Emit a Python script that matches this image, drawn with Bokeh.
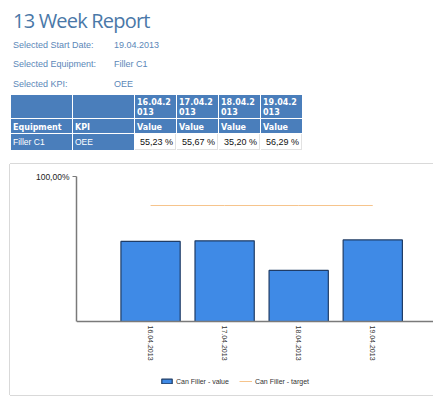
import math
from bokeh.plotting import figure
from bokeh.models import (Div, Range1d, FixedTicker, Legend, LegendItem, ColumnDataSource)
from bokeh.layouts import column
from bokeh.embed import file_html
from bokeh.resources import INLINE

# ---------------- data ----------------
report_title = "13 Week Report"
filter_labels = ["Selected Start Date:", "Selected Equipment:", "Selected KPI:"]
filter_values = ["19.04.2013", "Filler C1", "OEE"]
dates = ["16.04.2013", "17.04.2013", "18.04.2013", "19.04.2013"]
values = [55.23, 55.67, 35.20, 56.29]
targets = [80, 80, 80, 80]
equipment = "Filler C1"
kpi = "OEE"
row_headers = ["Equipment", "KPI"]
value_header = "Value"
y_ticks = [100]
y_tick_labels = ["100,00%"]
series_names = ["Can Filler - value", "Can Filler - target"]

# ---------------- header (title, filters, table) ----------------
TITLE_BLUE = "#4a78a8"
LABEL_BLUE = "#5b87b8"
CELL_BLUE = "#4a7ebb"
DX, DY = 3, 4

parts = []
parts.append(
    f'<div style="position:absolute;left:{5+DX}px;top:{-3+DY}px;font-family:\'Open Sans\';'
    f'font-size:20px;letter-spacing:-0.8px;line-height:30px;color:{TITLE_BLUE};white-space:nowrap;">{report_title}</div>'
)
label_tops = [30, 49, 69]
for t, lab, val in zip(label_tops, filter_labels, filter_values):
    parts.append(
        f'<div style="position:absolute;left:{5+DX}px;top:{t+DY}px;font-family:\'Liberation Sans\';'
        f'font-size:9px;line-height:12px;color:{LABEL_BLUE};white-space:nowrap;">{lab}</div>'
    )
    parts.append(
        f'<div style="position:absolute;left:{106+DX}px;top:{t+DY}px;font-family:\'Liberation Sans\';'
        f'font-size:9px;line-height:12px;color:{LABEL_BLUE};white-space:nowrap;">{val}</div>'
    )

col_left = [3, 65, 127, 169, 211, 253]
col_w = [61, 61, 41, 41, 41, 41]
row_top = [86, 110, 125]
row_h = [23, 14, 16]


def cell(ci, ri, text, bg, color, bold, align="left", valign="flex-end", font="'DejaVu Sans'", size=8, border=""):
    just = "flex-start" if align == "left" else "flex-end"
    weight = "bold" if bold else "normal"
    return (
        f'<div style="position:absolute;box-sizing:border-box;left:{col_left[ci]+DX}px;top:{row_top[ri]+DY}px;'
        f'width:{col_w[ci]}px;height:{row_h[ri]}px;background:{bg};color:{color};'
        f'display:flex;align-items:{valign};justify-content:{just};padding:0 2px;{border}'
        f'font-family:{font};font-size:{size}px;font-weight:{weight};line-height:10px;'
        f'word-break:break-all;text-align:{align};">{text}</div>'
    )


parts.append(cell(0, 0, "", CELL_BLUE, "white", True))
parts.append(cell(1, 0, "", CELL_BLUE, "white", True))
for i, d in enumerate(dates):
    parts.append(cell(2 + i, 0, d, CELL_BLUE, "white", True))
parts.append(cell(0, 1, row_headers[0], CELL_BLUE, "white", True))
parts.append(cell(1, 1, row_headers[1], CELL_BLUE, "white", True))
for i in range(len(dates)):
    parts.append(cell(2 + i, 1, value_header, CELL_BLUE, "white", True))
parts.append(cell(0, 2, equipment, CELL_BLUE, "white", False, valign="center", font="'Liberation Sans'", size=8.5))
parts.append(cell(1, 2, kpi, CELL_BLUE, "white", False, valign="center", font="'Liberation Sans'", size=8.5))
for i, v in enumerate(values):
    txt = f"{v:.2f}".replace(".", ",") + " %"
    parts.append(cell(2 + i, 2, txt, "white", "#111", False, align="right", valign="center",
                      font="'Liberation Sans'", size=9,
                      border="border-right:1px solid #e2e2e2;border-bottom:1px solid #e2e2e2;"))

html = '<div style="position:relative;width:430px;height:154px;">' + "".join(parts) + "</div>"
header = Div(text=html, width=430, height=154)

# ---------------- chart ----------------
xs = list(range(1, len(dates) + 1))
src = ColumnDataSource(dict(x=xs, value=values, target=targets))

# frame reaches the panel bottom; 0% sits 145px below 100%, frame bottom 74px below 0%
y_bottom = -100 * 74 / 145

p = figure(width=423, height=231, output_backend="svg", toolbar_location=None,
           x_range=Range1d(0, 4.82), y_range=Range1d(y_bottom, 100),
           min_border_left=66, min_border_right=0, min_border_top=12, min_border_bottom=0,
           margin=(0, 0, 0, 10))
p.styles = {"box-shadow": "-1px 0 0 0 #d9d9d9, 0 -1px 0 0 #d9d9d9, 0 1px 0 0 #d9d9d9"}
p.outline_line_color = None
p.background_fill_color = "white"
p.border_fill_color = "white"

bars = p.vbar(x="x", top="value", width=0.8, source=src,
              fill_color="#3f8ae6", line_color="#1f3c66", line_width=1.2)
tline = p.line(x="x", y="target", source=src, line_color="#f6c48c", line_width=1)

p.xaxis.fixed_location = 0
p.xaxis.ticker = FixedTicker(ticks=xs)
p.xaxis.major_label_overrides = {x: d for x, d in zip(xs, dates)}
p.xaxis.major_label_orientation = -math.pi / 2
p.xaxis.major_label_text_font = "Liberation Sans"
p.xaxis.major_label_text_font_size = "7px"
p.xaxis.major_label_text_color = "#333333"
p.xaxis.major_label_standoff = 4
p.xaxis.major_tick_out = 0
p.xaxis.major_tick_in = 0
p.xaxis.major_tick_line_color = None
p.xaxis.minor_tick_line_color = None
p.xaxis.axis_line_color = "#7a7a7a"
p.xaxis.axis_line_width = 1.5

p.yaxis.bounds = (0, 100)
p.yaxis.ticker = FixedTicker(ticks=y_ticks)
p.yaxis.major_label_overrides = {t: l for t, l in zip(y_ticks, y_tick_labels)}
p.yaxis.major_label_text_font = "Liberation Sans"
p.yaxis.major_label_text_font_size = "8.5px"
p.yaxis.major_label_text_color = "#222222"
p.yaxis.major_label_standoff = 3
p.yaxis.major_tick_out = 4
p.yaxis.major_tick_in = 0
p.yaxis.major_tick_line_color = "#7a7a7a"
p.yaxis.minor_tick_line_color = None
p.yaxis.axis_line_color = "#7a7a7a"
p.yaxis.axis_line_width = 1.5

p.xgrid.grid_line_color = None
p.ygrid.ticker = FixedTicker(ticks=y_ticks)
p.ygrid.grid_line_color = "#dcdcdc"

legend = Legend(items=[LegendItem(label=series_names[0], renderers=[bars]),
                       LegendItem(label=series_names[1], renderers=[tline])],
                location=(84, 10), orientation="horizontal",
                glyph_width=13, glyph_height=6, label_height=8, label_standoff=3,
                spacing=10, padding=0, margin=0,
                label_text_font="Liberation Sans", label_text_font_size="7px",
                label_text_color="#333333",
                border_line_color=None, background_fill_alpha=0)
p.add_layout(legend, "center")

layout = column(header, p, spacing=0)
open("out.html", "w").write(file_html(layout, INLINE))
